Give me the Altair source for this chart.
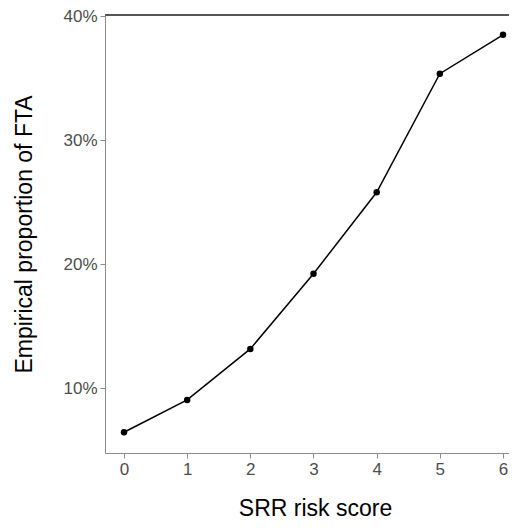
import altair as alt
import pandas as pd

scores = [0, 1, 2, 3, 4, 5, 6]
proportions = [0.0647, 0.0908, 0.1319, 0.1925, 0.2581, 0.3537, 0.385]
x_ticks = [0, 1, 2, 3, 4, 5, 6]
y_ticks = [0.1, 0.2, 0.3, 0.4]

df = pd.DataFrame({"score": scores, "prop": proportions})

FONT = "Liberation Sans"
W, H = 404, 438

x_enc = alt.X(
    "score:Q",
    scale=alt.Scale(domain=[-0.3008, 6.095], nice=False, zero=False),
    axis=alt.Axis(
        values=x_ticks, format="d", title="SRR risk score", grid=False,
        domainColor="#8c8c8c", tickColor="#8c8c8c", tickSize=5, labelPadding=3,
        labelFont=FONT, labelFontSize=17, labelColor="#4d4d4d",
        titleFont=FONT, titleFontSize=23, titleFontWeight="normal", titleColor="#000000",
        titleX=210, titleY=62, titleBaseline="alphabetic", titleAnchor="middle",
    ),
)
y_enc = alt.Y(
    "prop:Q",
    scale=alt.Scale(domain=[0.048, 0.401], nice=False, zero=False),
    axis=alt.Axis(
        values=y_ticks, format=".0%", title="Empirical proportion of FTA", grid=False,
        domainColor="#8c8c8c", tickColor="#8c8c8c", tickSize=5, labelPadding=3,
        labelFont=FONT, labelFontSize=17, labelColor="#4d4d4d",
        titleFont=FONT, titleFontSize=23, titleFontWeight="normal", titleColor="#000000",
        titleX=-74, titleY=H / 2, titleBaseline="alphabetic", titleAnchor="middle",
    ),
)

base = alt.Chart(df)
line = base.mark_line(color="black", strokeWidth=1.5).encode(x=x_enc, y=y_enc)
pts = base.mark_circle(color="black", opacity=1, size=42).encode(x="score:Q", y="prop:Q")
top = base.mark_rule(color="#555555", strokeWidth=1).encode(
    x=alt.value(0), x2=alt.value(W), y=alt.value(0)
)

chart = (
    alt.layer(line, pts, top)
    .properties(
        width=W, height=H,
        autosize=alt.AutoSizeParams(type="none"),
        padding={"left": 97, "top": 7, "right": 0, "bottom": 68},
    )
    .configure_view(stroke=None)
)

chart.save("out.html", embed_options={"renderer": "svg", "actions": False})
